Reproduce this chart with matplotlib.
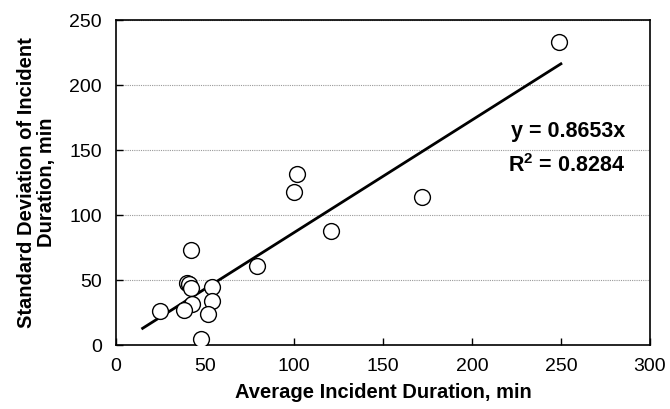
import numpy as np
import matplotlib
matplotlib.use("Agg")
import matplotlib.pyplot as plt

plt.rcParams['font.family'] = ['Liberation Sans', 'DejaVu Sans']
plt.rcParams['mathtext.fontset'] = 'custom'
plt.rcParams['mathtext.rm'] = 'Liberation Sans'
plt.rcParams['mathtext.bf'] = 'Liberation Sans:bold'

# average vs std dev of incident duration (min)
avg_duration = [249, 172, 102, 100, 121, 79, 42, 25, 40, 41, 42, 54, 43, 38, 54, 52, 48]
std_duration = [233, 114, 132, 118, 88, 61, 73, 26, 48, 47, 44, 45, 32, 27, 34, 24, 5]

slope = 0.8653
r_squared = 0.8284
fit_x = [15, 250]

fig = plt.figure(figsize=(6.7, 4.09), dpi=100)
ax = fig.add_axes([0.173, 0.156, 0.797, 0.795])

ax.scatter(avg_duration, std_duration, s=130, facecolors='white', edgecolors='black',
           linewidths=1.0, zorder=3)
fx = np.array(fit_x)
ax.plot(fx, slope * fx, color='black', linewidth=2, zorder=2)

ax.set_xlim(0, 300)
ax.set_ylim(0, 250)
ax.set_xticks(range(0, 301, 50))
ax.set_yticks(range(0, 251, 50))
ax.yaxis.grid(True, linestyle=(0, (1, 1)), color='#999999', linewidth=0.8)
ax.set_axisbelow(True)
ax.tick_params(direction='in', labelsize=14, length=5, width=1)
ax.tick_params(axis='x', pad=9)
ax.tick_params(axis='y', pad=10)
for s in ax.spines.values():
    s.set_linewidth(1.2)

ax.set_xlabel('Average Incident Duration, min', fontsize=14.5, fontweight='bold', labelpad=6)
ax.set_ylabel('Standard Deviation of Incident\nDuration, min', fontsize=14.5,
              fontweight='bold', labelpad=10, linespacing=1.05)

ax.text(286, 164.5, f'y = {slope}x', fontsize=15.5, fontweight='bold', ha='right', va='center')
ax.text(286, 138, r'R$^{\mathbf{2}}$' + f' = {r_squared}', fontsize=15.5, fontweight='bold',
        ha='right', va='center')

fig.savefig('out.png', dpi=100)
